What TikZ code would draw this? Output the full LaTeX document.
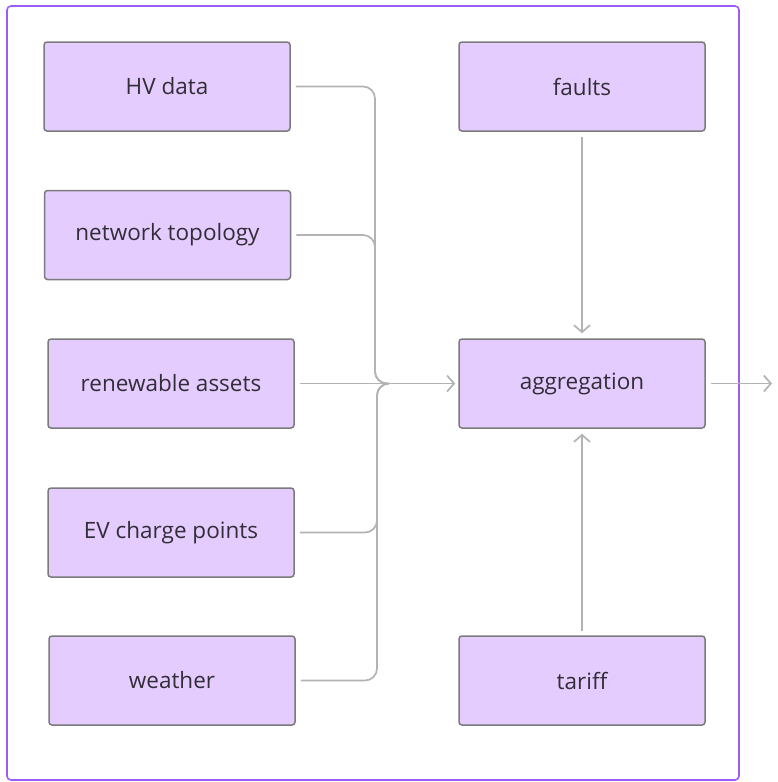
\documentclass[tikz,border=0pt]{standalone}
\usepackage{fontspec}
\setmainfont{Open Sans}
\usetikzlibrary{arrows.meta}
\definecolor{boxfill}{HTML}{E4CCFF}
\definecolor{boxline}{HTML}{7B7B7B}
\definecolor{txt}{HTML}{332D38}
\definecolor{frame}{HTML}{9D5CF5}
\definecolor{conn}{HTML}{B3B3B3}
\tikzset{
  databox/.style={draw=boxline, fill=boxfill, line width=1.5pt, rounded corners=3pt,
    minimum width=246pt, minimum height=89pt, inner sep=0pt, text=txt,
    font=\fontsize{22.5}{27}\selectfont},
  connline/.style={draw=conn, line width=1.7pt},
  arr/.style={connline, -{Straight Barb[length=7pt,width=16pt,line width=1.7pt]}},
}
\begin{document}
\begin{tikzpicture}[x=1pt,y=1pt]
\useasboundingbox (0,0) rectangle (777,-782);
\draw[frame, line width=1.6pt, rounded corners=4pt] (7,-6) rectangle (739,-780);

\node[databox] (hv) at (167,-86.5) {HV data};
\node[databox] (topo) at (167.5,-235) {network topology};
\node[databox] (ren) at (171,-383.5) {renewable assets};
\node[databox] (ev) at (171,-532.5) {EV charge points};
\node[databox] (wea) at (172,-680.5) {weather};
\node[databox] (faults) at (582,-86.5) {faults};
\node[databox] (agg) at (582,-383.5) {aggregation};
\node[databox] (tariff) at (582,-680.5) {tariff};

\coordinate (bus) at (388,-383.5);
\coordinate (out) at (772,-383.5);

\draw[connline, rounded corners=12pt] ([xshift=5pt]hv.east) -- (375,-86.5) -- (375,-383.5) -- (bus);
\draw[connline, rounded corners=12pt] ([xshift=5pt]topo.east) -- (375,-235) -- (375,-383.5) -- (bus);
\draw[connline, rounded corners=12pt] ([xshift=5pt]ev.east) -- (377,-532.5) -- (377,-383.5) -- (bus);
\draw[connline, rounded corners=12pt] ([xshift=5pt]wea.east) -- (377,-680.5) -- (377,-383.5) -- (bus);
\draw[arr] ([xshift=5pt]ren.east) -- ([xshift=-3pt]agg.west);
\draw[arr] ([yshift=-5pt]faults.south) -- ([yshift=5pt]agg.north);
\draw[arr] ([yshift=4pt]tariff.north) -- ([yshift=-5pt]agg.south);
\draw[arr] ([xshift=5pt]agg.east) -- (out);
\end{tikzpicture}
\end{document}
